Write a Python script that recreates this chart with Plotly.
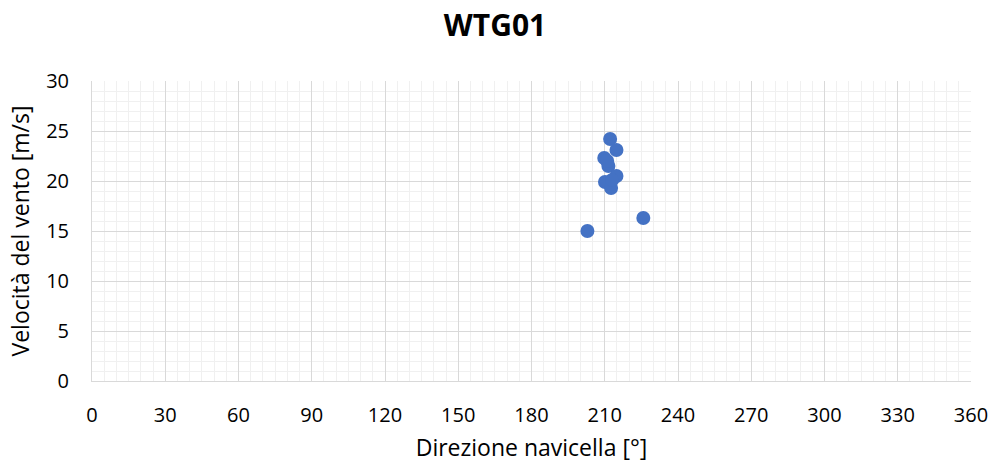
import plotly.graph_objects as go

direction = [212.2, 214.8, 209.8, 211.5, 214.8, 210.1, 212.6, 225.8, 202.9, 211.0, 213.0]
speed = [24.2, 23.1, 22.3, 21.5, 20.5, 19.9, 19.3, 16.3, 15.0, 22.0, 20.1]

fig = go.Figure()
fig.add_trace(go.Scatter(x=direction, y=speed, mode="markers",
                         marker=dict(size=14, color="#4472C4"), showlegend=False))

W, H = 995, 466
font_family = "Open Sans, Liberation Sans, sans-serif"
fig.update_layout(
    width=W, height=H,
    margin=dict(l=92, r=24, t=81, b=85),
    paper_bgcolor="white", plot_bgcolor="white",
    title=dict(text="<b>WTG01</b>", x=495 / W, xanchor="center", y=1 - 25 / H, yanchor="middle",
               font=dict(size=30, family=font_family, color="black")),
    font=dict(family=font_family, color="black"),
)
fig.update_xaxes(range=[0, 360], dtick=30, tick0=0, automargin=False,
                 showgrid=True, gridcolor="#D9D9D9", gridwidth=1,
                 minor=dict(dtick=5, showgrid=True, gridcolor="#F0F0F0", gridwidth=1),
                 showline=True, linecolor="#D9D9D9", linewidth=1, mirror=False,
                 zeroline=False, ticks="", tickfont=dict(size=20), ticklabelstandoff=16,
                 title=dict(text="Direzione navicella [°]", font=dict(size=23), standoff=12))
fig.update_yaxes(range=[0, 30], dtick=5, tick0=0, automargin=False,
                 showgrid=True, gridcolor="#D9D9D9", gridwidth=1,
                 minor=dict(dtick=1, showgrid=True, gridcolor="#F0F0F0", gridwidth=1),
                 showline=True, linecolor="#D9D9D9", linewidth=1,
                 zeroline=False, ticks="", tickfont=dict(size=20), ticklabelstandoff=18,
                 title=dict(text="Velocità del vento [m/s]", font=dict(size=23), standoff=10))

fig.write_html("out.html", config={"displayModeBar": False},
               post_script="document.body.style.margin='0';")
